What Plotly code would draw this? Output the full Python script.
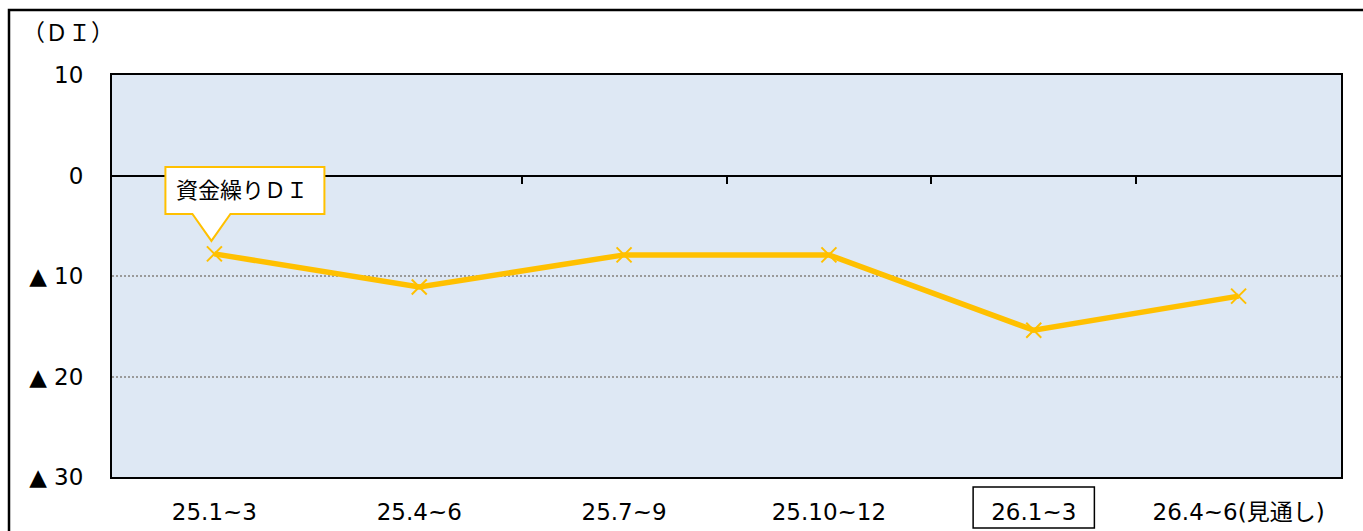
import plotly.graph_objects as go

categories = ["25.1~3", "25.4~6", "25.7~9", "25.10~12", "26.1~3", "26.4~6(見通し)"]
di_values = [-7.8, -11.1, -7.9, -7.9, -15.4, -12.0]
series_name = "資金繰りＤＩ"
y_tickvals = [10, 0, -10, -20, -30]
y_ticktext = ["10", "0", "▲ 10", "▲ 20", "▲ 30"]
boundary_ticks = [0.5, 1.5, 2.5, 3.5, 4.5]

FONT = "DejaVu Sans, Noto Sans CJK JP, sans-serif"
YELLOW = "#FFC000"

W, H = 1363, 531
L, R, T, B = 112, 22, 75, 54
pw, ph = W - L - R, H - T - B

def px_x(p):
    return (p - L) / pw

def px_y(p):
    return (H - B - p) / ph

fig = go.Figure()
fig.add_trace(go.Scatter(
    x=categories, y=di_values, mode="lines+markers", name=series_name,
    line=dict(color=YELLOW, width=5.5),
    marker=dict(symbol="x-thin", size=15, line=dict(color=YELLOW, width=2)),
    showlegend=False, hoverinfo="skip",
))
# invisible trace to activate the zero-line axis
fig.add_trace(go.Scatter(x=[-0.5, 5.5], y=[None, None], xaxis="x2", yaxis="y",
                         mode="lines", showlegend=False, hoverinfo="skip"))

fig.update_layout(
    width=W, height=H,
    margin=dict(l=L, r=R, t=T, b=B, autoexpand=False),
    paper_bgcolor="white",
    plot_bgcolor="#DEE8F4",
    font=dict(family=FONT, size=23, color="black"),
    xaxis=dict(
        type="category", range=[-0.5, 5.5], automargin=False,
        showline=True, linecolor="black", linewidth=2, mirror=True,
        showgrid=False, ticks="", tickfont=dict(size=23),
        ticklabelstandoff=13,
    ),
    xaxis2=dict(
        overlaying="x", anchor="free", position=0.75, side="bottom",
        range=[-0.5, 5.5], showline=True, linecolor="black", linewidth=2,
        tickvals=boundary_ticks, ticks="outside", ticklen=7, tickwidth=2,
        tickcolor="black", showticklabels=False, showgrid=False, zeroline=False,
        automargin=False,
    ),
    yaxis=dict(
        range=[-30, 10], tickvals=y_tickvals, ticktext=y_ticktext,
        automargin=False,
        showline=True, linecolor="black", linewidth=2, mirror=True,
        showgrid=True, gridcolor="#9A9A9A", gridwidth=2, griddash="2px,2px",
        zeroline=False, ticks="", tickfont=dict(size=23),
        ticklabelstandoff=22,
    ),
)

# callout bubble (box + tail) anchored to first point, sized in pixels
fig.add_shape(
    type="path", xref="x", yref="y", xsizemode="pixel", ysizemode="pixel",
    xanchor=0, yanchor=di_values[0],
    path="M -49,40 L -22,40 L -3,13 L 16,40 L 110,40 L 110,87 L -49,87 Z",
    fillcolor="white", line=dict(color=YELLOW, width=2), layer="above",
)
fig.add_annotation(
    x=0, y=di_values[0], xref="x", yref="y", text=series_name,
    showarrow=False, xshift=28, yshift=63.5,
    font=dict(size=22, color="black"), xanchor="center", yanchor="middle",
)

# title (DI)
fig.add_annotation(
    x=px_x(20), y=px_y(33), xref="paper", yref="paper",
    text="（ＤＩ）", showarrow=False, xanchor="left", yanchor="middle",
    font=dict(size=23),
)

# boxed category label
fig.add_shape(type="rect", xref="x", yref="paper",
              x0=4 - 0.296, x1=4 + 0.296, y0=px_y(528), y1=px_y(487),
              line=dict(color="black", width=1.5), fillcolor="rgba(0,0,0,0)")

# outer frame
fig.add_shape(type="rect", xref="paper", yref="paper",
              x0=px_x(9), x1=px_x(1400), y0=px_y(560), y1=px_y(10),
              line=dict(color="black", width=2.5), fillcolor="rgba(0,0,0,0)")

fig.write_html("out.html", config={"displayModeBar": False},
               post_script="document.body.style.margin='0';document.body.style.overflow='hidden';")
